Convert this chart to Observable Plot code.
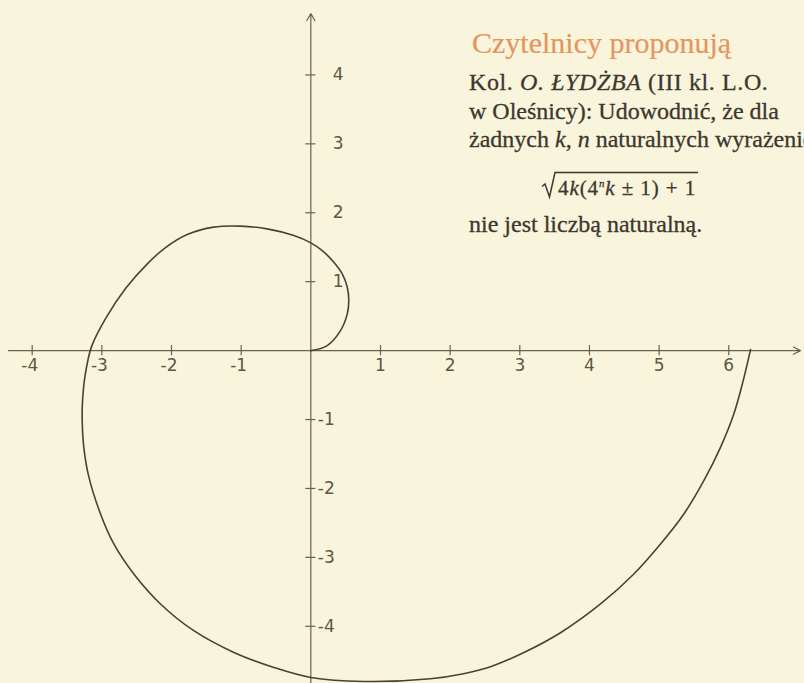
<!DOCTYPE html>
<html>
<head>
<meta charset="utf-8">
<script src="https://cdn.jsdelivr.net/npm/d3@7"></script>
<script src="https://cdn.jsdelivr.net/npm/@observablehq/plot@0.6"></script>
<style>
  html, body { margin: 0; padding: 0; background: #f9f5dc; }
  #wrap { position: relative; width: 804px; height: 683px; overflow: hidden; }
  #chart { position: absolute; left: 0; top: 0; }
  .note { position: absolute; left: 469px; font-family: "Liberation Serif", "Times New Roman", serif;
          color: #3d372f; white-space: nowrap; line-height: 1; font-size: 24px;
          -webkit-text-stroke: 0.3px #3d372f; }
  .title { color: #e6955c; font-size: 30px; left: 472px; -webkit-text-stroke: 0.2px #e6955c; }
  .radicand { font-size: 21px; left: 558px; letter-spacing: 0.9px; }
  #radical { position: absolute; left: 541px; top: 171px; }
</style>
</head>
<body>
<div id="wrap">
  <div class="note title" style="top:28px">Czytelnicy proponują</div>
  <div class="note" style="top:69.9px; letter-spacing:0.6px">Kol. <i>O. ŁYDŻBA</i> (III kl. L.O.</div>
  <div class="note" style="top:98.9px">w Oleśnicy): Udowodnić, że dla</div>
  <div class="note" style="top:126.9px">żadnych <i>k</i>, <i>n</i> naturalnych wyrażenie</div>
  <svg id="radical" width="160" height="28"><path d="M1,15.5 L4,13 L8.5,26 L14,1.5 H157" fill="none" stroke="#3d372f" stroke-width="1.5"/></svg>
  <div class="note radicand" style="top:178.4px">4<i>k</i>(4<sup style="font-size:11px"><i>n</i></sup><i>k</i> ± 1) + 1</div>
  <div class="note" style="top:211.9px">nie jest liczbą naturalną.</div>
</div>
<script>
// Spiral traced point by point (x, y in axis units)
const curveX = [0, 0.235, 0.426, 0.523, 0.545, 0.523, 0.451, 0.330, 0.164, 0, -0.244, -0.626, -1.009, -1.397,
  -1.774, -2.086, -2.344, -2.660, -2.947, -3.148, -3.241, -3.277, -3.282, -3.259, -3.191, -3.019, -2.828, -2.541,
  -2.158, -1.680, -1.105, -0.531, 0, 0.757, 1.718, 2.192, 2.580, 3.082, 3.584, 4.159, 4.637, 5.020, 5.355,
  5.642, 5.881, 6.072, 6.207, 6.312];
const curveY = [0, 0.073, 0.290, 0.533, 0.726, 0.919, 1.113, 1.282, 1.451, 1.563, 1.669, 1.766, 1.807, 1.792,
  1.684, 1.495, 1.263, 0.900, 0.464, 0.058, -0.363, -0.726, -1.016, -1.403, -1.814, -2.370, -2.805, -3.241,
  -3.676, -4.064, -4.379, -4.597, -4.742, -4.800, -4.761, -4.688, -4.586, -4.369, -4.093, -3.676, -3.241, -2.806, -2.370,
  -1.887, -1.403, -0.919, -0.435, 0.015];

// Axis ticks
const xTicksNeg = [-4, -3, -2, -1];
const xTicksPos = [1, 2, 3, 4, 5, 6];
const yTicksPos = [1, 2, 3, 4];
const yTicksNeg = [-1, -2, -3, -4];
const xTicks = xTicksNeg.concat(xTicksPos);
const yTicks = yTicksPos.concat(yTicksNeg);

const axisColor = "#6b614f";
const inkColor = "#4b4133";
const labelColor = "#5e5545";
const labelFont = "DejaVu Sans";

const chart = Plot.plot({
  width: 804,
  height: 683,
  margin: 0,
  x: {domain: [-4.455, 7.087], axis: null},
  y: {domain: [-4.83, 5.08], axis: null},
  style: {background: "transparent", overflow: "visible"},
  marks: [
    // axes with arrow heads
    Plot.arrow([0], {x1: -4.34, x2: 7.03, y1: 0, y2: 0, stroke: axisColor, strokeWidth: 1.2, headLength: 10, headAngle: 55}),
    Plot.arrow([0], {x1: 0, x2: 0, y1: -5.0, y2: 4.89, stroke: axisColor, strokeWidth: 1.2, headLength: 10, headAngle: 60}),
    // tick marks crossing the axes
    Plot.ruleX(xTicks, {x: d => d, y1: -0.075, y2: 0.075, stroke: axisColor, strokeWidth: 1.2}),
    Plot.ruleY(yTicks, {y: d => d, x1: -0.072, x2: 0.072, stroke: axisColor, strokeWidth: 1.2}),
    // tick labels
    Plot.text(xTicksNeg, {x: d => d, y: 0, text: d => "-" + Math.abs(d), textAnchor: "end", dx: 6, dy: 15,
      fontSize: 17, fontFamily: labelFont, fill: labelColor}),
    Plot.text(xTicksPos, {x: d => d, y: 0, text: d => String(d), textAnchor: "middle", dy: 15,
      fontSize: 17, fontFamily: labelFont, fill: labelColor}),
    Plot.text(yTicksPos, {x: 0, y: d => d, text: d => String(d), textAnchor: "start", dx: 22,
      fontSize: 17, fontFamily: labelFont, fill: labelColor}),
    Plot.text(yTicksNeg, {x: 0, y: d => d, text: d => "-" + Math.abs(d), textAnchor: "start", dx: 7,
      fontSize: 17, fontFamily: labelFont, fill: labelColor}),
    // the spiral
    Plot.line(curveX, {x: curveX, y: curveY, curve: "catmull-rom", stroke: inkColor, strokeWidth: 1.6})
  ]
});
chart.id = "chart";
document.getElementById("wrap").prepend(chart);
</script>
</body>
</html>
